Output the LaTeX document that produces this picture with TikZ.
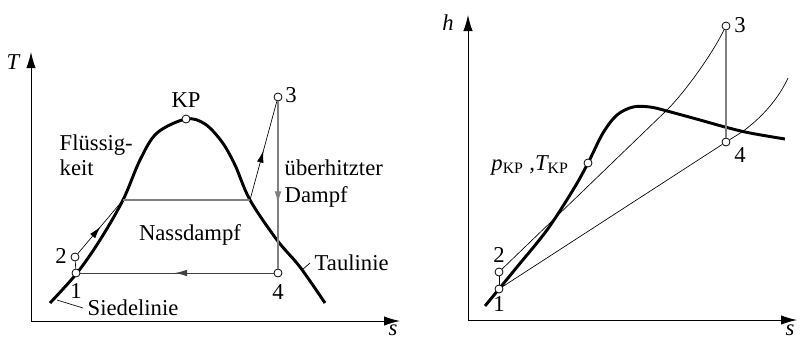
\documentclass[tikz,border=0pt]{standalone}
\usepackage{fontspec}
\setmainfont{Liberation Serif}
\usetikzlibrary{arrows.meta,decorations.markings}
\tikzset{
  pt/.style={circle,draw,fill=white,inner sep=0pt,minimum size=6pt,line width=.6pt},
  axis/.style={line width=.7pt,-{Latex[length=12pt,width=7pt]}},
  dome/.style={line width=2.2pt},
  iso/.style={line width=.5pt},
  grey/.style={line width=.8pt,black!50},
  midarrow/.style={postaction={decorate},decoration={markings,
    mark=at position #1 with {\arrow{Latex[length=9pt,width=5pt]}}}},
}
\begin{document}
\begin{tikzpicture}[x=.75pt,y=-.75pt, every node/.style={font=\fontsize{17}{19}\selectfont}]
  \useasboundingbox (0,0) rectangle (801,340);
  % T,s diagram
  \coordinate (o1) at (31,321);
  \draw[axis] (o1) -- (31,52);
  \draw[axis] (o1) -- (400,321);
  \node (T) at (13,62) {\itshape T};
  \node[anchor=north,inner sep=0pt] (s1) at (393,325) {\itshape s};
  \draw[dome] plot[smooth,tension=.55] coordinates {(50,303) (77,273) (100,240)
    (123,200) (140,160) (157,133) (186,119) (205,124) (222,142) (235,165)
    (250,200) (277,240) (300,267) (325,303)};
  \coordinate (la) at (123,200); \coordinate (ra) at (250,200);
  \node[pt] (p1) at (76,273) {};
  \node[pt] (p2) at (75,257) {};
  \node[pt] (p3) at (278,97) {};
  \node[pt] (p4) at (278,273) {};
  \node[pt] (kp) at (186,119) {};
  \draw[iso] (p1) -- (p2);
  \draw[iso,midarrow=.5] (p2) -- (la);
  \draw[grey] (la) -- (ra);
  \draw[iso,midarrow=.5] (ra) -- (p3);
  \draw[grey,midarrow=.61] (p3) -- (p4);
  \draw[black!75,line width=.7pt,midarrow=.51] (p4) -- (p1);
  \node (KP) at (186,100) {KP};
  \node (l1) at (76,291) {1};
  \node (l2) at (61,256) {2};
  \node (l3) at (291,95) {3};
  \node (l4) at (278,292) {4};
  \node[anchor=west] (fl1) at (55,145) {Flüssig-};
  \node[anchor=west] (fl2) at (55,168) {keit};
  \node[anchor=west] (ue1) at (280,168) {überhitzter};
  \node[anchor=west] (ue2) at (280,197) {Dampf};
  \node (nd) at (190,235) {Nassdampf};
  \node[anchor=west] (sied) at (83,308) {Siedelinie};
  \node[anchor=west] (taul) at (310,263) {Taulinie};
  \draw[iso] (57,300) -- (sied.west);
  \draw[iso] (302,270) -- (taul.west);
  % h,s diagram
  \coordinate (o2) at (468,320);
  \draw[axis] (o2) -- (468,15);
  \draw[axis] (o2) -- (797,320);
  \node (h) at (448,23) {\itshape h};
  \node[anchor=north,inner sep=0pt] (s2) at (790,325) {\itshape s};
  \draw[dome] plot[smooth,tension=.55] coordinates {(485,306) (499,289) (517,267)
    (547,230) (573,190) (588,163) (603,133) (617,115) (633,107) (650,107)
    (667,111) (700,120) (725,127) (750,133) (785,139)};
  \node[pt] (q1) at (499,289) {};
  \node[pt] (q2) at (499,272) {};
  \node[pt] (q3) at (726,26) {};
  \node[pt] (q4) at (726,142) {};
  \node[pt] (qkp) at (588,163) {};
  \draw[iso] (q1) -- (q2);
  \draw[iso] (q2) -- (667,110) .. controls (683,94) and (710,58) .. (q3);
  \draw[iso] (q1) -- (q4);
  \draw[iso] (q4) -- (742,132) .. controls (760,119) and (778,100) .. (788,78);
  \draw[grey] (q3) -- (q4);
  \node (m1) at (499,304) {1};
  \node (m2) at (499,255) {2};
  \node (m3) at (740,25) {3};
  \node (m4) at (740,155) {4};
  \node (pkp) at (530,165) {\itshape p\textsubscript{\upshape KP} ,\itshape T\textsubscript{\upshape KP}};
\end{tikzpicture}
\end{document}
